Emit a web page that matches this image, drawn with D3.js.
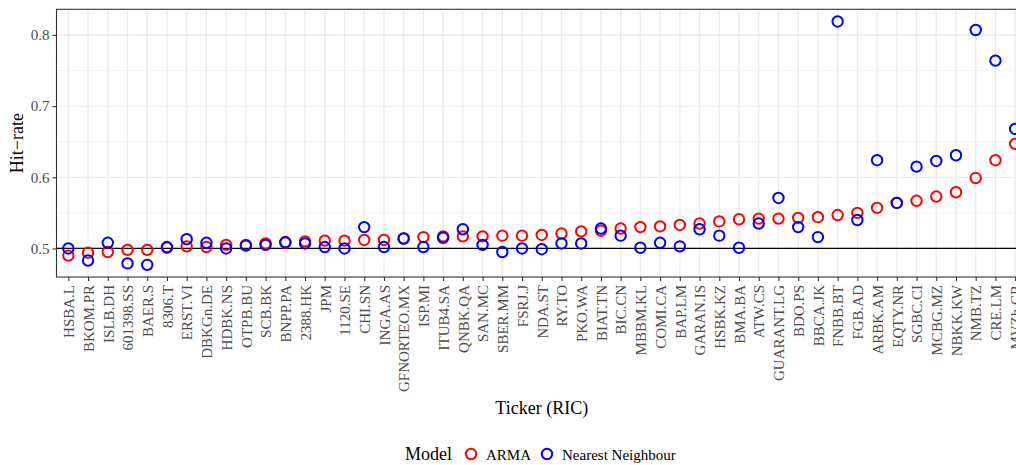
<!DOCTYPE html>
<html>
<head>
<meta charset="utf-8">
<script src="https://cdn.jsdelivr.net/npm/d3@7/dist/d3.min.js"></script>
<style>
  html, body { margin: 0; padding: 0; background: #fff; overflow: hidden; }
  svg { display: block; font-family: "Liberation Serif", "Times New Roman", serif; }
</style>
</head>
<body>
<svg id="chart" width="1040" height="465"></svg>
<script>
// Tickers, ordered by ARMA hit-rate
const tickers = [
  "HSBA.L", "BKOM.PR", "ISLB.DH", "601398.SS", "BAER.S", "8306.T", "ERST.VI",
  "DBKGn.DE", "HDBK.NS", "OTPB.BU", "SCB.BK", "BNPP.PA", "2388.HK", "JPM",
  "1120.SE", "CHI.SN", "INGA.AS", "GFNORTEO.MX", "ISP.MI", "ITUB4.SA", "QNBK.QA",
  "SAN.MC", "SBER.MM", "FSRJ.J", "NDA.ST", "RY.TO", "PKO.WA", "BIAT.TN",
  "BIC.CN", "MBBM.KL", "COMI.CA", "BAP.LM", "GARAN.IS", "HSBK.KZ", "BMA.BA",
  "ATW.CS", "GUARANT.LG", "BDO.PS", "BBCA.JK", "FNBB.BT", "FGB.AD", "ARBK.AM",
  "EQTY.NR", "SGBC.CI", "MCBG.MZ", "NBKK.KW", "NMB.TZ", "CRE.LM", "MVZh.CR"
];

// Hit-rate of the ARMA model
const armaHit = [
  0.490, 0.494, 0.495, 0.498, 0.498, 0.501, 0.503,
  0.502, 0.505, 0.505, 0.507, 0.508, 0.510, 0.511,
  0.511, 0.512, 0.512, 0.514, 0.516, 0.517, 0.517,
  0.517, 0.518, 0.518, 0.519, 0.521, 0.524, 0.525,
  0.528, 0.530, 0.531, 0.533, 0.535, 0.538, 0.541,
  0.542, 0.542, 0.543, 0.544, 0.547, 0.550, 0.557,
  0.564, 0.567, 0.573, 0.579, 0.599, 0.624, 0.647
];

// Hit-rate of the nearest-neighbour model
const nnHit = [
  0.500, 0.483, 0.508, 0.479, 0.477, 0.502, 0.513,
  0.508, 0.500, 0.504, 0.505, 0.509, 0.507, 0.502,
  0.500, 0.530, 0.502, 0.514, 0.502, 0.515, 0.527,
  0.505, 0.495, 0.500, 0.499, 0.507, 0.507, 0.528,
  0.518, 0.501, 0.508, 0.503, 0.527, 0.518, 0.501,
  0.535, 0.571, 0.530, 0.516, 0.819, 0.540, 0.624,
  0.564, 0.615, 0.623, 0.631, 0.807, 0.764, 0.668
];

const yTicks = [0.5, 0.6, 0.7, 0.8];
const yMinorTicks = [0.55, 0.65, 0.75];
const modelNames = ["ARMA", "Nearest Neighbour"];
const modelColors = ["#ff0000", "#0000ff"];

const svg = d3.select("#chart");
const panel = { left: 56.5, right: 1027, top: 9.3, bottom: 277 };

const x = d3.scalePoint()
  .domain(tickers)
  .range([panel.left, panel.right])
  .padding(0.6);

const allVals = armaHit.concat(nnHit);
const lo = d3.min(allVals), hi = d3.max(allVals);
const pad = (hi - lo) * 0.05;
const y = d3.scaleLinear()
  .domain([lo - pad, hi + pad])
  .range([panel.bottom, panel.top]);

// panel grid
const grid = svg.append("g");
grid.selectAll(".ymin").data(yMinorTicks).join("line")
  .attr("x1", panel.left).attr("x2", panel.right)
  .attr("y1", d => y(d)).attr("y2", d => y(d))
  .attr("stroke", "#f2f2f2").attr("stroke-width", 0.8);
grid.selectAll(".ymaj").data(yTicks).join("line")
  .attr("x1", panel.left).attr("x2", panel.right)
  .attr("y1", d => y(d)).attr("y2", d => y(d))
  .attr("stroke", "#ebebeb").attr("stroke-width", 1.3);
grid.selectAll(".xmaj").data(tickers).join("line")
  .attr("x1", d => x(d)).attr("x2", d => x(d))
  .attr("y1", panel.top).attr("y2", panel.bottom)
  .attr("stroke", "#ebebeb").attr("stroke-width", 1.3);

// reference line at 0.5
svg.append("line")
  .attr("x1", panel.left).attr("x2", panel.right)
  .attr("y1", y(0.5)).attr("y2", y(0.5))
  .attr("stroke", "#000").attr("stroke-width", 1.3);

// points
const series = [armaHit, nnHit];
series.forEach((vals, si) => {
  svg.append("g").selectAll("circle").data(vals).join("circle")
    .attr("cx", (d, i) => x(tickers[i]))
    .attr("cy", d => y(d))
    .attr("r", 5.2)
    .attr("fill", "none")
    .attr("stroke", modelColors[si])
    .attr("stroke-width", 2);
});

// panel border
svg.append("rect")
  .attr("x", panel.left).attr("y", panel.top)
  .attr("width", panel.right - panel.left).attr("height", panel.bottom - panel.top)
  .attr("fill", "none").attr("stroke", "#333").attr("stroke-width", 1.1);

// y axis
const yAxis = d3.axisLeft(y).tickValues(yTicks).tickFormat(d3.format(".1f")).tickSize(4).tickPadding(3);
const gy = svg.append("g").attr("transform", `translate(${panel.left},0)`).call(yAxis);
gy.select(".domain").remove();
gy.selectAll(".tick line").attr("stroke", "#333").attr("stroke-width", 1.1);
gy.selectAll(".tick text").attr("fill", "#4d4d4d").style("font-size", "15px")
  .style("font-family", "Liberation Serif, serif");

// x axis
const xAxis = d3.axisBottom(x).tickSize(4).tickPadding(3);
const gx = svg.append("g").attr("transform", `translate(0,${panel.bottom})`).call(xAxis);
gx.select(".domain").remove();
gx.selectAll(".tick line").attr("stroke", "#333").attr("stroke-width", 1.1);
gx.selectAll(".tick text")
  .attr("fill", "#4d4d4d")
  .style("font-size", "15px")
  .style("font-family", "Liberation Serif, serif")
  .attr("text-anchor", "end")
  .attr("transform", "rotate(-90)")
  .attr("x", -8)
  .attr("y", 0)
  .attr("dy", "0.35em");

// axis titles
svg.append("text")
  .attr("x", (panel.left + panel.right) / 2)
  .attr("y", 414)
  .attr("text-anchor", "middle")
  .style("font-size", "18px")
  .text("Ticker (RIC)");

svg.append("text")
  .attr("transform", `translate(23,${(panel.top + panel.bottom) / 2}) rotate(-90)`)
  .attr("text-anchor", "middle")
  .style("font-size", "18px")
  .text("Hit\u2212rate");

// legend
const legend = svg.append("g");
legend.append("text").attr("x", 405).attr("y", 460).style("font-size", "18px").text("Model");
const itemX = [471, 547];
modelNames.forEach((name, i) => {
  legend.append("circle")
    .attr("cx", itemX[i]).attr("cy", 454).attr("r", 5.2)
    .attr("fill", "none").attr("stroke", modelColors[i]).attr("stroke-width", 2);
  legend.append("text")
    .attr("x", itemX[i] + 15).attr("y", 459.5)
    .style("font-size", "15px")
    .text(name);
});
</script>
</body>
</html>
